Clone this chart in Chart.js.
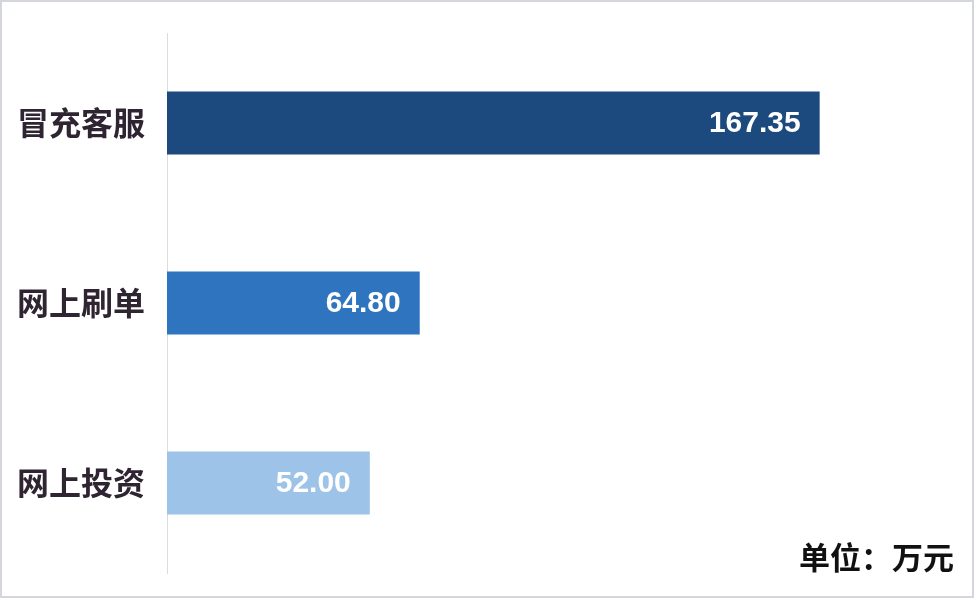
<!DOCTYPE html>
<html>
<head>
<meta charset="utf-8">
<script src="https://cdn.jsdelivr.net/npm/chart.js@4"></script>
<style>
  html, body { margin: 0; padding: 0; background: #ffffff; }
  #wrap { width: 976px; height: 600px; position: relative; }
</style>
</head>
<body>
<div id="wrap"><canvas id="fraudChart"></canvas></div>
<script>
const categories = ["冒充客服", "网上刷单", "网上投资"];
const amounts = [167.35, 64.80, 52.00];
const barColors = ["#1d4a7e", "#2e74bf", "#9dc3e8"];
const unitText = "单位：万元";

// value labels inside bar ends + unit note + frame
const valueLabels = {
  id: "valueLabels",
  afterDatasetsDraw(chart) {
    const ctx = chart.ctx;
    const meta = chart.getDatasetMeta(0);
    ctx.save();
    ctx.font = "bold 30px 'Liberation Sans', Arial, sans-serif";
    ctx.fillStyle = "#ffffff";
    ctx.textAlign = "right";
    ctx.textBaseline = "middle";
    meta.data.forEach((bar, i) => {
      ctx.fillText(amounts[i].toFixed(2), bar.x - 19, bar.y + 1);
    });

    ctx.font = "bold 31px 'Noto Sans CJK SC', sans-serif";
    ctx.fillStyle = "#111111";
    ctx.textBaseline = "alphabetic";
    ctx.fillText(unitText, 954, 569);

    ctx.strokeStyle = "#d3d6db";
    ctx.lineWidth = 2;
    ctx.strokeRect(1, 1, 972, 596);
    ctx.restore();
  }
};

const ctx = document.getElementById("fraudChart").getContext("2d");
new Chart(ctx, {
  type: "bar",
  data: {
    labels: categories,
    datasets: [
      {
        data: amounts,
        backgroundColor: barColors,
        barPercentage: 0.35,
        categoryPercentage: 1,
      },
    ],
  },
  options: {
    indexAxis: "y",
    responsive: true,
    maintainAspectRatio: false,
    animation: false,
    layout: {
      padding: { top: 33, bottom: 27, left: 0, right: 29 },
    },
    scales: {
      x: {
        display: false,
        min: 0,
        max: 200,
      },
      y: {
        afterFit(scale) {
          scale.width = 167;
          scale.paddingTop = 0;
          scale.paddingBottom = 0;
        },
        grid: { display: false },
        border: { display: true, color: "#dcdcdc", width: 1 },
        ticks: {
          padding: 14,
          color: "#2f2431",
          font: {
            family: "'Noto Sans CJK SC', sans-serif",
            size: 32,
            weight: "bold",
          },
        },
      },
    },
    plugins: {
      legend: { display: false },
      tooltip: { enabled: false },
    },
  },
  plugins: [valueLabels],
});
</script>
</body>
</html>
